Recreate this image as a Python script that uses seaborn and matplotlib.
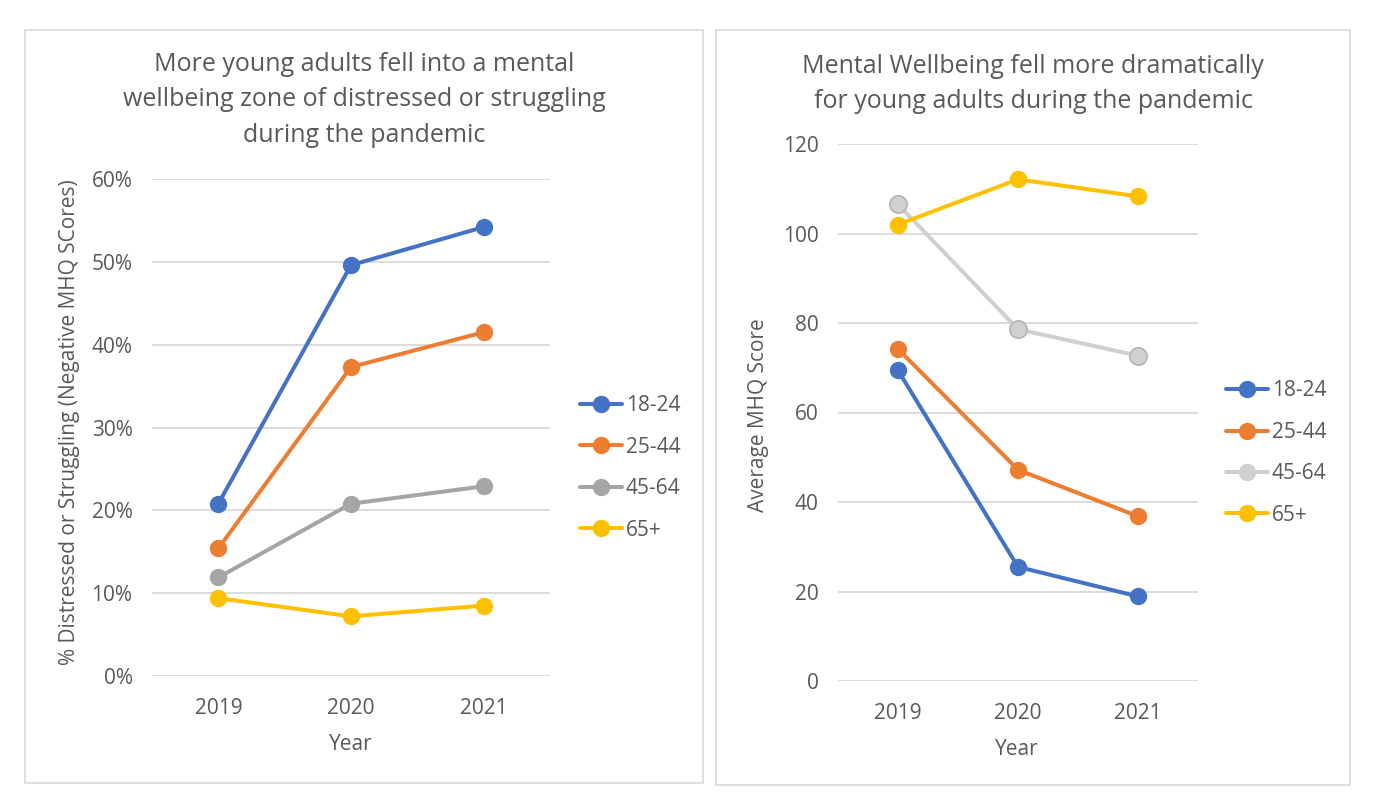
import matplotlib
matplotlib.use("Agg")
import matplotlib.pyplot as plt
import matplotlib.patches as mpatches
from matplotlib.ticker import PercentFormatter
import seaborn as sns
import pandas as pd

years = ["2019", "2020", "2021"]
groups = ["18-24", "25-44", "45-64", "65+"]

# left chart: share distressed or struggling
pct_18_24 = [0.208, 0.496, 0.542]
pct_25_44 = [0.154, 0.373, 0.415]
pct_45_64 = [0.119, 0.208, 0.229]
pct_65 = [0.094, 0.072, 0.085]

# right chart: average MHQ score
mhq_18_24 = [69.4, 25.5, 18.9]
mhq_25_44 = [74.2, 47.2, 36.8]
mhq_45_64 = [106.5, 78.6, 72.7]
mhq_65 = [102.0, 112.1, 108.3]

left_title = "More young adults fell into a mental\nwellbeing zone of distressed or struggling\nduring the pandemic"
right_title = "Mental Wellbeing fell more dramatically\nfor young adults during the pandemic"

left_colors = ["#4472C4", "#ED7D31", "#A5A5A5", "#FFC000"]
right_colors = ["#4472C4", "#ED7D31", "#D0D0D0", "#FFC000"]
txt = "#595959"
fs = 15

def make_df(series):
    rows = []
    for g, vals in zip(groups, series):
        for y, v in zip(years, vals):
            rows.append({"Year": y, "Group": g, "Value": v})
    return pd.DataFrame(rows)

df_left = make_df([pct_18_24, pct_25_44, pct_45_64, pct_65])
df_right = make_df([mhq_18_24, mhq_25_44, mhq_45_64, mhq_65])

sns.set_theme(style="white")
plt.rcParams['font.family'] = ['Open Sans', 'DejaVu Sans']

W, H = 1381, 808
fig = plt.figure(figsize=(13.81, 8.08), dpi=100)

# panel boxes
for x0, y0, x1, y1 in [(25, 30, 703, 783), (716, 30, 1350, 785)]:
    fig.patches.append(mpatches.Rectangle((x0 / W, 1 - y1 / H), (x1 - x0) / W, (y1 - y0) / H,
                                          transform=fig.transFigure, facecolor="none",
                                          edgecolor="#D9D9D9", linewidth=1.2, zorder=-1))

ax1 = fig.add_axes([152 / W, 1 - 676 / H, (550 - 152) / W, (676 - 179) / H])
ax2 = fig.add_axes([838 / W, 1 - 681 / H, (1198 - 838) / W, (681 - 144) / H])


def style_axis(ax, df, colors, ylim, yticks):
    sns.lineplot(data=df, x="Year", y="Value", hue="Group", palette=colors, marker="o",
                 markersize=12.5, linewidth=2.9, markeredgewidth=0, ax=ax, sort=False)
    ax.set_xlim(-0.5, 2.5)
    ax.set_ylim(*ylim)
    ax.set_yticks(yticks)
    ax.grid(axis="y", color="#D9D9D9", linewidth=1.3)
    ax.set_axisbelow(True)
    for s in ax.spines.values():
        s.set_visible(False)
    ax.tick_params(axis="both", length=0, labelsize=fs, labelcolor=txt)
    ax.tick_params(axis="x", pad=16)
    ax.tick_params(axis="y", pad=14)
    ax.patch.set_alpha(0)


style_axis(ax1, df_left, left_colors, (0, 0.6), [0, 0.1, 0.2, 0.3, 0.4, 0.5, 0.6])
ax1.yaxis.set_major_formatter(PercentFormatter(1.0, decimals=0))
style_axis(ax2, df_right, right_colors, (0, 120), [0, 20, 40, 60, 80, 100, 120])

# light gray markers on the right chart get a darker edge
gray_line = ax2.get_lines()[2]
gray_line.set_markeredgecolor("#B4B4B4")
gray_line.set_markeredgewidth(1.2)

ax1.set_xlabel("Year", fontsize=fs, color=txt)
ax1.set_ylabel("% Distressed or Struggling (Negative MHQ SCores)", fontsize=fs, color=txt)
ax2.set_xlabel("Year", fontsize=fs, color=txt)
ax2.set_ylabel("Average MHQ Score", fontsize=fs, color=txt)
ax1.xaxis.set_label_coords(351 / W, 1 - 734 / H, transform=fig.transFigure)
ax2.xaxis.set_label_coords(1017 / W, 1 - 739 / H, transform=fig.transFigure)
ax1.yaxis.set_label_coords(80 / W, 1 - 422 / H, transform=fig.transFigure)
ax2.yaxis.set_label_coords(769 / W, 1 - 415 / H, transform=fig.transFigure)

fig.text(364 / W, 1 - 100 / H, left_title, ha="center", va="center", fontsize=18,
         color=txt, linespacing=1.53)
fig.text(1033 / W, 1 - 84 / H, right_title, ha="center", va="center", fontsize=18,
         color=txt, linespacing=1.53)

for ax, anchor in [(ax1, (580 / W, 1 - 468 / H)), (ax2, (1226 / W, 1 - 453 / H))]:
    handles, labels = ax.get_legend_handles_labels()
    ax.legend(handles, labels, loc="center left", bbox_to_anchor=anchor,
              bbox_transform=fig.transFigure, frameon=False, fontsize=fs,
              labelcolor=txt, handlelength=2.0, handletextpad=0.2, labelspacing=0.98,
              borderpad=0, borderaxespad=0)

fig.savefig("out.png", dpi=100, facecolor="white")
